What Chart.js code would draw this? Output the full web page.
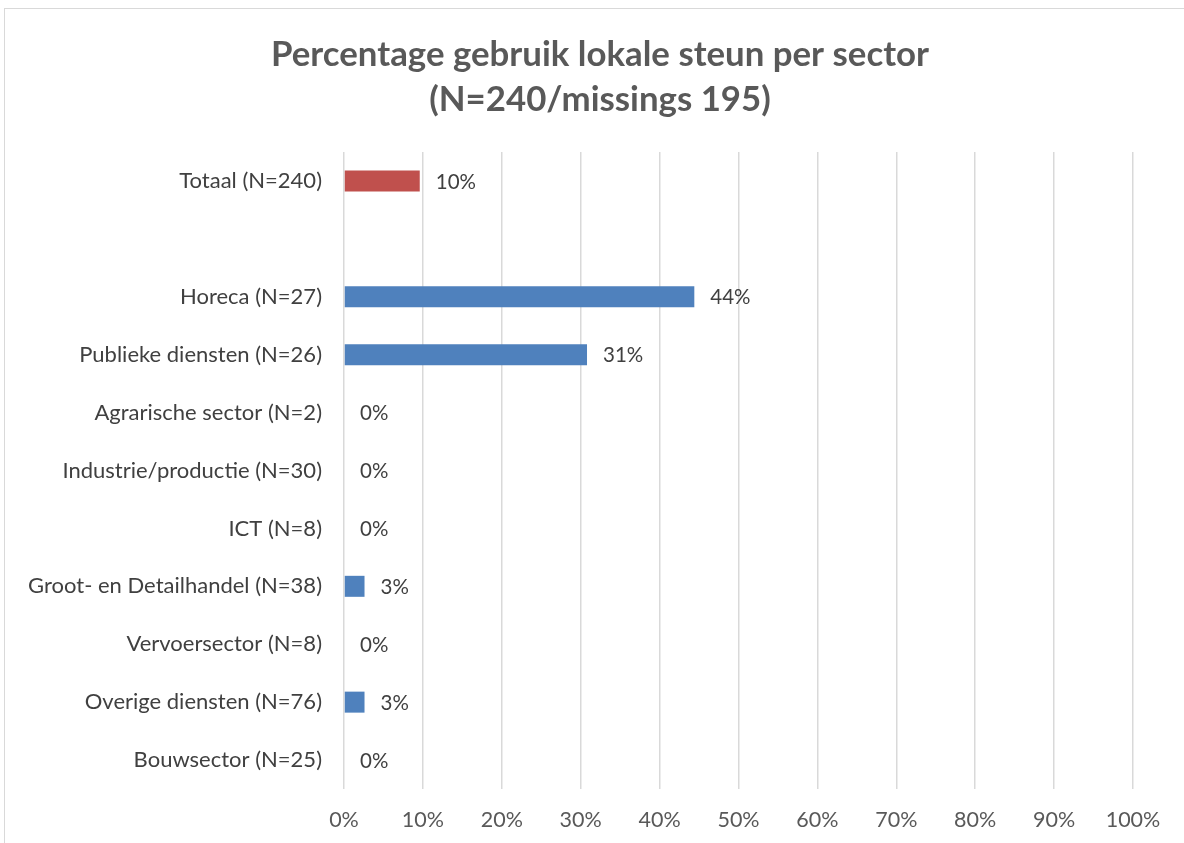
<!DOCTYPE html>
<html><head><meta charset="utf-8">
<script src="https://cdn.jsdelivr.net/npm/chart.js@4"></script>
<style>
html,body{margin:0;padding:0;background:#fff;}
#wrap{position:absolute;left:0;top:0;width:1184px;height:843px;}
#frame{position:absolute;left:4px;top:8px;width:1300px;height:900px;border:1px solid #d9d9d9;box-sizing:border-box;}
canvas{position:absolute;left:0;top:0;}
</style></head>
<body><div id="wrap"><div id="frame"></div><canvas id="c" width="1184" height="843"></canvas></div>
<script>
const titleLines = ['Percentage gebruik lokale steun per sector', '(N=240/missings 195)'];
const categories = ['Totaal (N=240)', '', 'Horeca (N=27)', 'Publieke diensten (N=26)', 'Agrarische sector (N=2)', 'Industrie/productie (N=30)', 'ICT (N=8)', 'Groot- en Detailhandel (N=38)', 'Vervoersector (N=8)', 'Overige diensten (N=76)', 'Bouwsector (N=25)'];
const values = [9.6, null, 44.4, 30.8, 0, 0, 0, 2.6, 0, 2.6, 0];
const barColors = ['#C0504D', '#4F81BD', '#4F81BD', '#4F81BD', '#4F81BD', '#4F81BD', '#4F81BD', '#4F81BD', '#4F81BD', '#4F81BD', '#4F81BD'];
const xTicks = [0, 10, 20, 30, 40, 50, 60, 70, 80, 90, 100];

const FONT = 'Lato, "Open Sans", sans-serif';

const valueLabels = {
  id: 'valueLabels',
  afterDatasetsDraw(chart) {
    const ctx = chart.ctx;
    const meta = chart.getDatasetMeta(0);
    ctx.save();
    ctx.font = '20.5px ' + FONT;
    ctx.fillStyle = '#404040';
    ctx.textAlign = 'left';
    ctx.textBaseline = 'middle';
    meta.data.forEach((bar, i) => {
      const v = values[i];
      if (v === null) return;
      ctx.fillText(Math.round(v) + '%', bar.x + 16, bar.y + 1);
    });
    ctx.restore();
  }
};

const chartTitle = {
  id: 'chartTitle',
  afterDraw(chart) {
    const ctx = chart.ctx;
    ctx.save();
    ctx.font = 'bold 34.8px ' + FONT;
    ctx.fillStyle = '#595959';
    ctx.textAlign = 'center';
    ctx.textBaseline = 'middle';
    ctx.fillText(titleLines[0], 600, 55);
    ctx.fillText(titleLines[1], 600, 100);
    ctx.restore();
  }
};

new Chart(document.getElementById('c'), {
  type: 'bar',
  data: {
    labels: categories,
    datasets: [{
      data: values,
      backgroundColor: barColors,
      barThickness: 21,
      borderWidth: 0,
      inflateAmount: 0
    }]
  },
  options: {
    indexAxis: 'y',
    responsive: false,
    animation: false,
    layout: { padding: { top: 152, right: 51, bottom: 10, left: 0 } },
    plugins: {
      legend: { display: false },
      tooltip: { enabled: false },
      title: { display: false }
    },
    scales: {
      x: {
        min: 0, max: 100,
        afterBuildTicks(scale) { scale.ticks = xTicks.map(v => ({ value: v })); },
        afterFit(scale) { scale.height = 44; },
        ticks: {
          callback: v => v + '%',
          color: '#595959',
          font: { family: FONT, size: 21.5 },
          padding: 18
        },
        grid: { color: '#d9d9d9', lineWidth: 1.5, drawTicks: false },
        border: { display: false }
      },
      y: {
        afterFit(scale) { scale.width = 344; },
        ticks: {
          color: '#404040',
          font: { family: FONT, size: 22 },
          padding: 22
        },
        grid: { display: false, drawTicks: false },
        border: { display: false }
      }
    }
  },
  plugins: [valueLabels, chartTitle]
});
</script>
</body></html>
